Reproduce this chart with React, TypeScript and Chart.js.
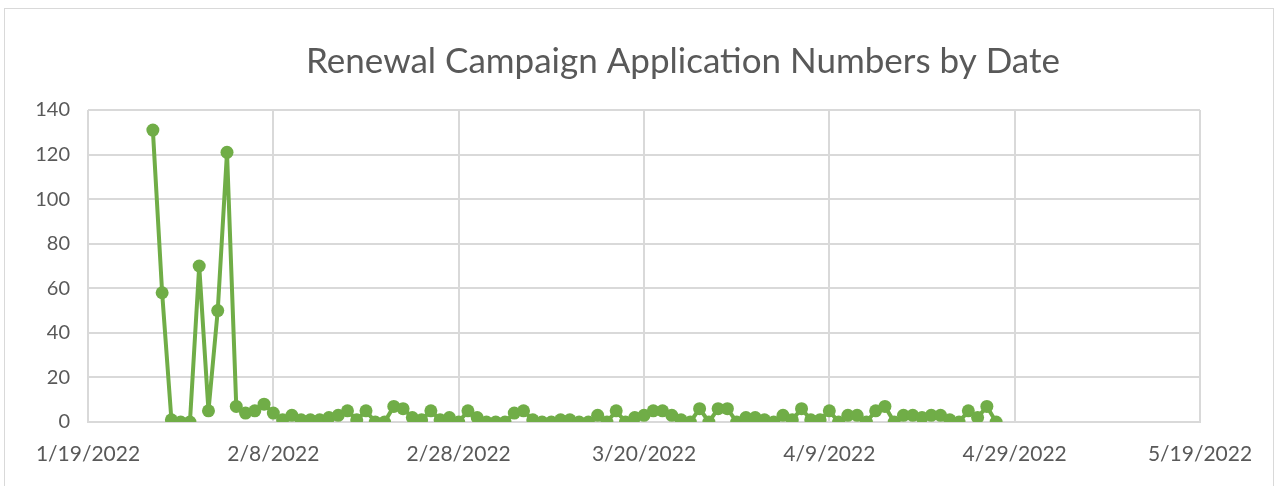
import React, { useEffect, useRef } from "react";
import { Chart, registerables } from "chart.js";

Chart.register(...registerables);

const TITLE = "Renewal Campaign Application Numbers by Date";
// Axis range: day offsets from 1/19/2022
const AXIS_START = new Date(2022, 0, 19);
const X_MIN = 0;
const X_MAX = 120;
const X_STEP = 20;
const X_TICK_LABELS = ["1/19/2022", "2/8/2022", "2/28/2022", "3/20/2022", "4/9/2022", "4/29/2022", "5/19/2022"];
const Y_TICKS = [0, 20, 40, 60, 80, 100, 120, 140];

// First data date: 1/26/2022, one value per day
const FIRST_DATE = new Date(2022, 0, 26);
const janValues = [131, 58, 1, 0, 0, 70];
const febValues = [5, 50, 121, 7, 4, 5, 8, 4, 1, 3, 1, 1, 1, 2, 3, 5, 1, 5, 0, 0, 7, 6, 2, 1, 5, 1, 2, 0];
const marValues = [5, 2, 0, 0, 0, 4, 5, 1, 0, 0, 1, 1, 0, 0, 3, 0, 5, 0, 2, 3, 5, 5, 3, 1, 0, 6, 0, 6, 6, 0, 2];
const aprValues = [2, 1, 0, 3, 1, 6, 1, 1, 5, 0, 3, 3, 0, 5, 7, 0, 3, 3, 2, 3, 3, 1, 0, 5, 2, 7, 0];

const values = [...janValues, ...febValues, ...marValues, ...aprValues];

const DAY_MS = 86400000;
const firstOffset = Math.round((FIRST_DATE.getTime() - AXIS_START.getTime()) / DAY_MS);

export default function App() {
  const ref = useRef<HTMLCanvasElement | null>(null);

  useEffect(() => {
    if (!ref.current) return;
    const points = values.map((v, i) => ({ x: firstOffset + i, y: v }));
    const green = "#70ad47";
    const grid = "#d9d9d9";
    const textColor = "#595959";
    const titlePlugin = {
      id: "centeredTitle",
      afterDraw(chart: any) {
        const ctx = chart.ctx;
        ctx.save();
        ctx.fillStyle = textColor;
        ctx.font = "35px Lato";
        ctx.textAlign = "center";
        ctx.textBaseline = "middle";
        ctx.fillText(TITLE, 683, 62);
        ctx.restore();
      },
    };
    const chart = new Chart(ref.current, {
      type: "line",
      data: {
        datasets: [
          {
            data: points,
            borderColor: green,
            backgroundColor: green,
            borderWidth: 4,
            pointRadius: 6.5,
            pointHoverRadius: 6.5,
            pointBorderWidth: 0,
            pointBackgroundColor: green,
            tension: 0,
          },
        ],
      },
      plugins: [titlePlugin],
      options: {
        animation: false,
        responsive: false,
        maintainAspectRatio: false,
        layout: { padding: { left: 0, right: 82, top: 110, bottom: 20 } },
        plugins: {
          legend: { display: false },
          tooltip: { enabled: false },
          title: { display: false },
        },
        scales: {
          x: {
            type: "linear",
            min: X_MIN,
            max: X_MAX,
            afterFit: (scale: any) => {
              scale.height = 44;
            },
            grid: { color: grid, lineWidth: 2, drawTicks: false },
            border: { display: true, color: grid, width: 2 },
            ticks: {
              stepSize: X_STEP,
              color: textColor,
              padding: 20,
              font: { family: "Lato", size: 21 },
              maxRotation: 0,
              autoSkip: false,
              callback: (val: any) => {
                const idx = Math.round((Number(val) - X_MIN) / X_STEP);
                return X_TICK_LABELS[idx] ?? "";
              },
            },
          },
          y: {
            min: Y_TICKS[0],
            max: Y_TICKS[Y_TICKS.length - 1],
            afterFit: (scale: any) => {
              scale.width = 88;
            },
            grid: { color: grid, lineWidth: 2, drawTicks: false },
            border: { display: false },
            ticks: {
              stepSize: Y_TICKS[1] - Y_TICKS[0],
              color: textColor,
              padding: 18,
              font: { family: "Lato", size: 20 },
            },
          },
        },
      },
    });
    return () => chart.destroy();
  }, []);

  return (
    <div style={{ position: "fixed", left: 0, top: 0, width: 1282, height: 486, background: "#ffffff", overflow: "hidden" }}>
      <div
        style={{
          position: "absolute",
          left: 4,
          top: 8,
          width: 1270,
          height: 500,
          border: "1px solid #d9d9d9",
          boxSizing: "border-box",
        }}
      />
      <canvas ref={ref} width={1282} height={486} style={{ position: "absolute", left: 0, top: 0, width: 1282, height: 486 }} />
    </div>
  );
}
